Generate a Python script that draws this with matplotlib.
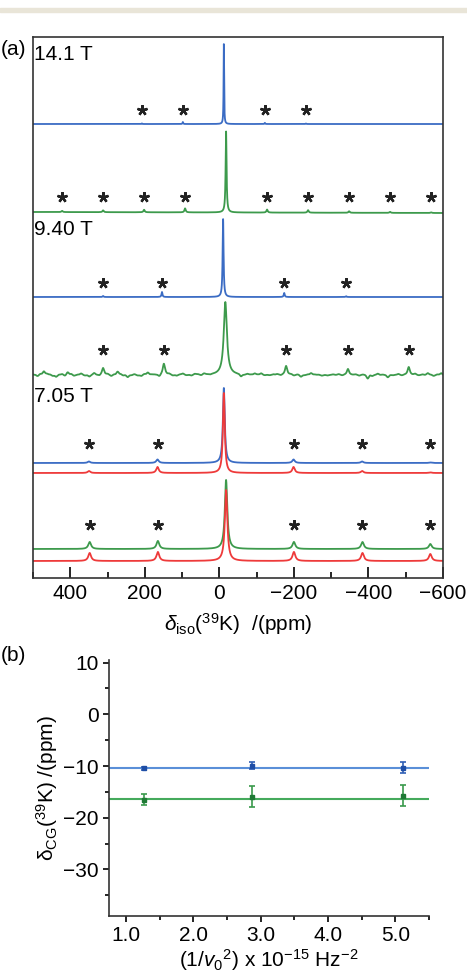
import numpy as np
import matplotlib
matplotlib.use("Agg")
import matplotlib.pyplot as plt
from matplotlib.ticker import MultipleLocator

plt.rcParams['font.family'] = ['Liberation Sans', 'DejaVu Sans']
plt.rcParams['mathtext.fontset'] = 'custom'
plt.rcParams['mathtext.rm'] = 'Liberation Sans'
plt.rcParams['mathtext.it'] = 'Liberation Sans:italic'

BLUE = '#3b6cc4'
GREEN = '#3d9a4c'
RED = '#ee3a3a'

# ---- panel (a): spectra, one row per trace ----
# offset = baseline height (arb. units), centre peak, height, width (ppm)
trace_color = [BLUE, GREEN, BLUE, GREEN, BLUE, RED, GREEN, RED]
trace_offset = [454, 366, 281, 203, 115, 105, 29, 17]
trace_tilt = [0.0, 1.0, 0.0, 0.0, 0.0, 0.0, 0.0, 0.0]
center_pos = [-12, -18, -10, -16, -12, -12, -18, -18]
center_height = [80, 81, 78, 73, 75, 80, 69, 71]
center_width = [1.6, 3.0, 3.0, 10.0, 6.0, 6.0, 8.0, 8.0]

# spinning sidebands (ppm) and their heights for every trace
sb_pos = [
    [208, 98, -122, -232],
    [422, 312, 202, 92, -128, -238, -348, -458, -568],
    [312, 154, -174, -340],
    [312, 149, -179, -345, -508],
    [350, 166, -199, -383, -566],
    [350, 166, -199, -383, -566],
    [348, 165, -200, -384, -566],
    [348, 165, -200, -384, -566],
]
sb_height = [
    [0.6, 2.0, 1.2, 0.5],
    [1.2, 1.8, 2.5, 4.0, 3.0, 2.5, 1.5, 1.0, 0.6],
    [1.0, 5.0, 4.0, 0.8],
    [7.0, 11.0, 9.0, 6.0, 8.0],
    [1.5, 3.5, 3.5, 1.5, 0.5],
    [2.0, 6.0, 6.0, 2.0, 0.6],
    [7.0, 8.0, 7.0, 7.0, 5.0],
    [8.0, 9.0, 9.0, 8.0, 7.0],
]
sb_width = [2.0, 4.0, 3.0, 7.0, 8.0, 8.0, 9.0, 9.0]

# baseline wiggles of the noisy 9.40 T green trace (ppm, height)
noise_pos = [505, 495, 488, 480, 471, 463, 455, 447, 438, 430, 422, 414,
             407, 398, 390, 380, 371, 360, 349, 336, 322, 300, 290, 282,
             273, 265, 258, 246, 237, 228, 219, 210, 201, 192, 183, 175,
             161, 145, 135, 125, 115, 106, 98, 88, 75, 66, 58, 49, 41, 33,
             25, -58, -66, -75, -85, -95, -103, -112, -122, -135, -145, -155,
             -165, -192, -200, -210, -219, -228, -237, -246, -255, -265,
             -275, -290, -305, -320, -330, -365, -375, -385, -398, -410,
             -425, -438, -452, -465, -480, -490, -525, -535, -545, -559,
             -567, -575, -585, -595]
noise_h = [1.0, 0.2, -0.6, 0.6, 2.0, 0.8, 0.3, -0.5, -1.0, 0.2, 0.5, -0.4,
           1.5, 0.6, -0.4, 0.2, 0.8, -0.3, -0.9, 1.0, -0.5, 0.4, -0.6, 0.3,
           1.8, 0.5, -0.3, -1.2, -0.2, 0.4, -0.3, -0.6, 0.5, 1.3, 0.3, 0.2,
           -1.0, 0.3, 0.5, -0.4, -0.5, 0.2, 0.7, -0.2, -0.4, 0.5, 0.3, -0.3,
           0.6, 0.1, -0.3, -1.3, -0.3, 0.4, 0.1, 0.7, 0.2, 0.8, -0.2, -0.2,
           0.3, 0.4, -0.3, 0.3, -0.4, 0.2, -1.0, -0.2, 0.3, 1.0, 0.3, 0.2,
           -0.4, -0.3, 0.3, 0.4, -0.3, 0.3, -0.4, 0.2, -2.0, -0.6, 0.7,
           0.2, -1.3, -0.2, 0.5, -0.3, 0.6, -0.2, 0.3, 1.0, 0.2, -0.5,
           0.3, 1.0]

# asterisk heights above each baseline
star_y = [468, 381, 295, 228, 134, None, 53, None]

field_labels = ['14.1 T', '9.40 T', '7.05 T']
field_label_y = [524, 348, 181]

# ---- panel (b) ----
inv_nu2 = [1.275, 2.87, 5.11]
cg_blue = [-10.4, -9.9, -10.3]
cg_blue_err = [0.3, 0.6, 1.0]
cg_green = [-16.5, -15.9, -15.7]
cg_green_err = [1.0, 2.0, 2.1]
fit_blue = -10.3
fit_green = -16.3


def lorentz(x, pos, h, w):
    return h / (1.0 + ((x - pos) / (w / 2.0)) ** 2)


fig = plt.figure(figsize=(4.67, 9.74), dpi=100)

# beige strip at the very top
fig.patches.append(plt.Rectangle((0, 0.9877), 1, 0.0045, transform=fig.transFigure,
                                 color='#e9e5d8', zorder=0))

ax = fig.add_axes([0.0707, 0.4066, 0.8779, 0.5554])
x = np.linspace(500, -600, 8000)
for i in range(len(trace_offset)):
    y = trace_offset[i] - trace_tilt[i] * (500 - x) / 1100.0
    y = y + lorentz(x, center_pos[i], center_height[i], center_width[i])
    for p, h in zip(sb_pos[i], sb_height[i]):
        y = y + lorentz(x, p, h, sb_width[i])
    if i == 3:
        for p, h in zip(noise_pos, noise_h):
            y = y + 1.8 * h * np.exp(-0.5 * ((x - p) / 3.0) ** 2)
    ax.plot(x, y, color=trace_color[i], lw=1.3)
    if star_y[i] is not None:
        ax.plot(sb_pos[i], [star_y[i]] * len(sb_pos[i]), ls='none',
                marker=(5, 2, 0), ms=7.5, mew=1.7, color='#222222')

for lab, yy in zip(field_labels, field_label_y):
    ax.text(497, yy, lab, fontsize=15, va='center', ha='left')

ax.set_xlim(500, -600)
ax.set_ylim(0, 541)
ax.set_yticks([])
ax.xaxis.set_major_locator(MultipleLocator(200))
ax.xaxis.set_minor_locator(MultipleLocator(100))
ax.tick_params(axis='x', which='major', direction='in', length=8, width=1.2,
               labelsize=15, pad=4)
ax.tick_params(axis='x', which='minor', direction='in', length=4, width=1.2)
for s in ax.spines.values():
    s.set_linewidth(1.2)
    s.set_color('#333333')
ax.set_xlabel(r'$\delta_{\rm iso}$($^{39}$K)  /(ppm)', fontsize=15, labelpad=6)

fig.text(0.002, 0.9487, '(a)', fontsize=15, va='center', ha='left')
fig.text(0.002, 0.3275, '(b)', fontsize=15, va='center', ha='left')

# ---- panel (b) axes ----
bx = fig.add_axes([0.2334, 0.0595, 0.6852, 0.2629])
bx.axhline(fit_blue, color='#5a8fd8', lw=1.5)
bx.axhline(fit_green, color='#45aa5c', lw=1.5)
bx.errorbar(inv_nu2, cg_blue, yerr=cg_blue_err, fmt='s', ms=3.5, color='#1f4ea6',
            ecolor='#2f5fb5', elinewidth=1.2, capsize=2.5, capthick=1.2)
bx.errorbar(inv_nu2, cg_green, yerr=cg_green_err, fmt='s', ms=3.5, color='#1f7a35',
            ecolor='#3a9a4c', elinewidth=1.2, capsize=2.5, capthick=1.2)
bx.set_xlim(0.75, 5.5)
bx.set_ylim(-39, 10.5)
bx.set_yticks([10, 0, -10, -20, -30])
bx.yaxis.set_minor_locator(MultipleLocator(5))
bx.set_xticks([1, 2, 3, 4, 5])
bx.set_xticklabels(['1.0', '2.0', '3.0', '4.0', '5.0'])
bx.xaxis.set_minor_locator(MultipleLocator(0.5))
bx.spines['top'].set_visible(False)
bx.spines['right'].set_visible(False)
for s in ['left', 'bottom']:
    bx.spines[s].set_linewidth(1.2)
    bx.spines[s].set_color('#333333')
bx.tick_params(which='major', direction='out', length=4, width=1.2, labelsize=15)
bx.tick_params(which='minor', direction='out', length=3, width=1.2)
bx.set_ylabel('δ$_{\\rm CG}$($^{39}$K) /(ppm)', fontsize=15, labelpad=2)
bx.set_xlabel(r'(1/$v_0$$^2$) x 10$^{-15}$ Hz$^{-2}$', fontsize=15, labelpad=1)

fig.savefig('out.png', dpi=100)
